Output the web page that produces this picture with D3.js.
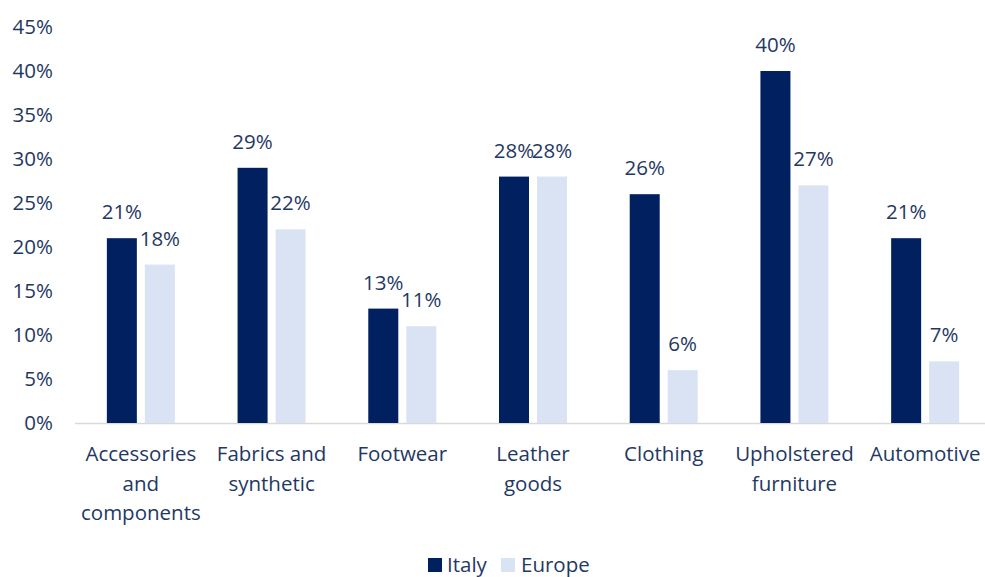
<!DOCTYPE html>
<html>
<head>
<meta charset="utf-8">
<script src="https://cdn.jsdelivr.net/npm/d3@7"></script>
<style>
  body { margin: 0; background: #fff; }
  text { font-family: "Open Sans", Lato, sans-serif; fill: #1F3864; }
</style>
</head>
<body>
<div id="chart"></div>
<script>
// data
const categories = [
    ['Accessories', 'and', 'components'],
    ['Fabrics and', 'synthetic'],
    ['Footwear'],
    ['Leather', 'goods'],
    ['Clothing'],
    ['Upholstered', 'furniture'],
    ['Automotive'],
];
const italy = [21, 29, 13, 28, 26, 40, 21];
const europe = [18, 22, 11, 28, 6, 27, 7];
const seriesNames = ['Italy', 'Europe'];
const yTicks = [0, 5, 10, 15, 20, 25, 30, 35, 40, 45];

const settings = { width: 985, height: 577, elId: '#chart' };
const colors = ['#002060', '#DAE3F3'];
const fontSize = '20.5px';

const svg = d3.select(settings.elId)
    .append('svg')
    .attr('width', settings.width)
    .attr('height', settings.height);

const x = d3.scaleBand()
    .domain(d3.range(categories.length))
    .range([75.5, 990.5]);

const y = d3.scaleLinear()
    .domain([0, 45])
    .range([423, 27]);

// two bars of 30px with an 8px gap, centred in each band
const inner = d3.scaleBand()
    .domain([0, 1])
    .range([x.bandwidth() / 2 - 34, x.bandwidth() / 2 + 34])
    .paddingInner(8 / 38);

// y tick labels
svg.append('g')
    .selectAll('text')
    .data(yTicks)
    .enter()
    .append('text')
    .attr('x', 53)
    .attr('y', d => y(d))
    .attr('dy', '0.35em')
    .attr('text-anchor', 'end')
    .attr('font-size', fontSize)
    .text(d => d + '%');

// baseline
svg.append('line')
    .attr('x1', 75)
    .attr('x2', 985)
    .attr('y1', y(0) + 0.5)
    .attr('y2', y(0) + 0.5)
    .attr('stroke', '#D9D9D9')
    .attr('stroke-width', 1.5);

const rows = categories.map((c, i) => ({ i, vals: [italy[i], europe[i]] }));

const groups = svg.append('g')
    .selectAll('g')
    .data(rows)
    .enter()
    .append('g')
    .attr('transform', d => `translate(${x(d.i)},0)`);

groups.selectAll('rect')
    .data(d => d.vals)
    .enter()
    .append('rect')
    .attr('x', (_, j) => inner(j))
    .attr('width', inner.bandwidth())
    .attr('y', d => y(d))
    .attr('height', d => y(0) - y(d))
    .attr('fill', (_, j) => colors[j]);

groups.selectAll('text.val')
    .data(d => d.vals)
    .enter()
    .append('text')
    .attr('class', 'val')
    .attr('x', (_, j) => inner(j) + inner.bandwidth() / 2)
    .attr('y', d => y(d) - 19)
    .attr('text-anchor', 'middle')
    .attr('font-size', fontSize)
    .text(d => d + '%');

// category labels
svg.append('g')
    .selectAll('text')
    .data(categories)
    .enter()
    .append('text')
    .attr('text-anchor', 'middle')
    .attr('font-size', fontSize)
    .attr('transform', (_, i) => `translate(${x(i) + x.bandwidth() / 2},461)`)
    .selectAll('tspan')
    .data(d => d)
    .enter()
    .append('tspan')
    .attr('x', 0)
    .attr('y', (_, k) => k * 29.5)
    .text(d => d);

// legend
const legendX = [428, 501];
const legend = svg.append('g')
    .selectAll('g')
    .data(seriesNames)
    .enter()
    .append('g')
    .attr('transform', (_, i) => `translate(${legendX[i]},558)`);
legend.append('rect')
    .attr('width', 14)
    .attr('height', 14)
    .attr('fill', (_, i) => colors[i]);
legend.append('text')
    .attr('x', (_, i) => i === 0 ? 19 : 20)
    .attr('y', 7)
    .attr('dy', '0.35em')
    .attr('font-size', fontSize)
    .text(d => d);
</script>
</body>
</html>
